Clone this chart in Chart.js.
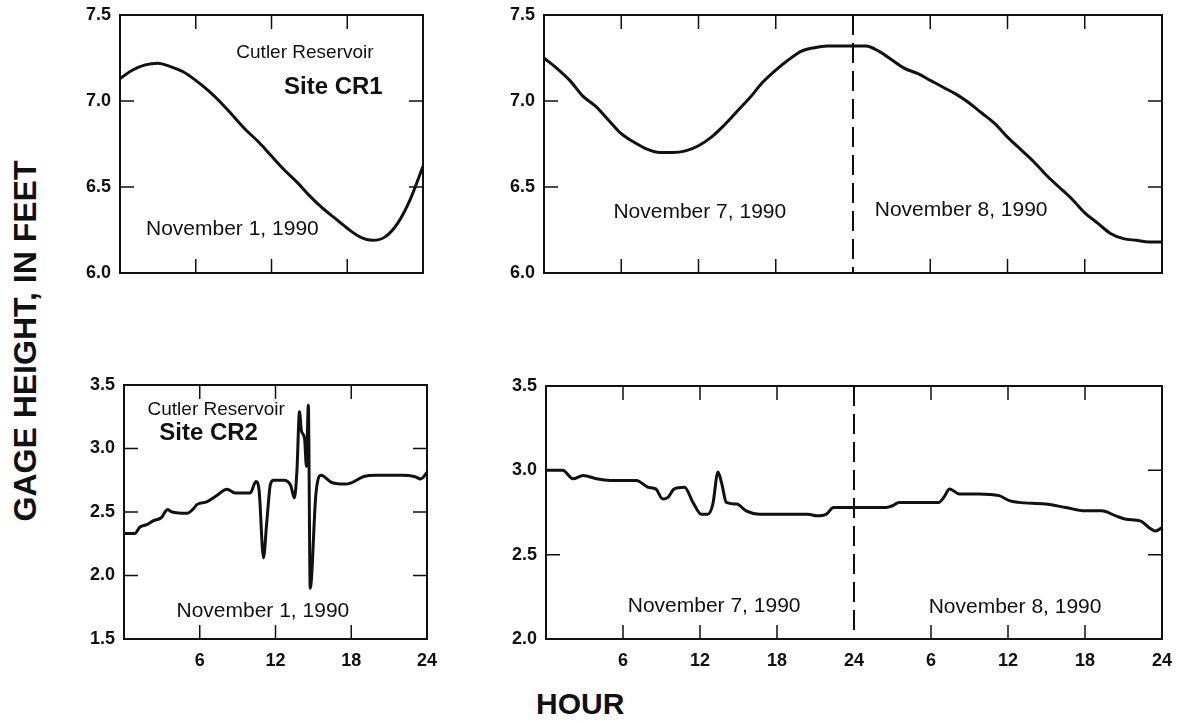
<!DOCTYPE html>
<html>
<head>
<meta charset="utf-8">
<script src="https://cdn.jsdelivr.net/npm/chart.js@4.4.1/dist/chart.umd.min.js"></script>
<style>
  body { margin: 0; background: #fff; width: 1182px; height: 721px; position: relative; overflow: hidden;
         font-family: "Liberation Sans", Arial, sans-serif; color: #111; }
  canvas.panel { position: absolute; }
  #yTitle { position: absolute; left: 25px; top: 341px; transform: translate(-50%, -50%) rotate(-90deg);
            font-weight: bold; font-size: 32px; line-height: 32px; white-space: nowrap; }
  #xTitle { position: absolute; left: 536px; top: 689px; font-weight: bold; font-size: 30px; line-height: 30px; }
</style>
</head>
<body>
<div id="yTitle">GAGE HEIGHT, IN FEET</div>
<div id="xTitle">HOUR</div>
<canvas id="cr1Day1" class="panel"></canvas>
<canvas id="cr1Day78" class="panel"></canvas>
<canvas id="cr2Day1" class="panel"></canvas>
<canvas id="cr2Day78" class="panel"></canvas>
<script>
// Site CR1, November 1, 1990
const cr1Nov1Hours = [0, 1, 2, 3, 4, 5, 6, 7, 8, 9, 10, 11, 12, 13, 14, 15, 16, 17, 18, 19, 20, 21, 22, 23, 24];
const cr1Nov1Gage = [7.13, 7.18, 7.21, 7.22, 7.20, 7.17, 7.12, 7.06, 6.99, 6.91, 6.83, 6.76, 6.68, 6.60, 6.53,
                     6.45, 6.38, 6.32, 6.26, 6.21, 6.19, 6.21, 6.29, 6.43, 6.62];

// Site CR1, November 7-8, 1990 (hours counted from start of Nov 7)
const cr1Nov78Hours = [0, 1, 2, 3, 4, 5, 6, 7, 8, 9, 10, 11, 12, 13, 14, 15, 16, 17, 18, 19, 20, 21, 22, 23, 24,
                       25, 26, 27, 28, 29, 30, 31, 32, 33, 34, 35, 36, 37, 38, 39, 40, 41, 42, 43, 44, 45, 46, 47, 48];
const cr1Nov78Gage = [7.25, 7.19, 7.12, 7.03, 6.97, 6.89, 6.81, 6.76, 6.72, 6.70, 6.70, 6.71, 6.74, 6.79, 6.86,
                      6.94, 7.02, 7.11, 7.18, 7.24, 7.29, 7.31, 7.32, 7.32, 7.32, 7.32, 7.29, 7.24, 7.19, 7.16,
                      7.12, 7.08, 7.04, 6.99, 6.93, 6.87, 6.79, 6.72, 6.65, 6.57, 6.50, 6.43, 6.35, 6.29, 6.23,
                      6.20, 6.19, 6.18, 6.18];

// Site CR2, November 1, 1990
const cr2Nov1Hours = [0, 0.85, 1.25, 1.8, 2.3, 3.0, 3.25, 3.45, 3.8, 5.0, 5.45, 5.8, 6.55, 7.35, 8.15, 8.8, 10.0,
                      10.45, 10.7, 11.05, 11.3, 11.6, 11.85, 12.65, 13.2, 13.5, 13.7, 13.9, 14.05, 14.3, 14.45,
                      14.6, 14.75, 15.2, 15.6, 16.5, 17.5, 18.0, 19.0, 20.0, 22.0, 23.0, 23.5, 24];
const cr2Nov1Gage = [2.33, 2.33, 2.38, 2.40, 2.43, 2.46, 2.50, 2.52, 2.50, 2.49, 2.52, 2.56, 2.58, 2.63, 2.68, 2.65,
                     2.65, 2.74, 2.67, 2.14, 2.41, 2.72, 2.75, 2.75, 2.71, 2.61, 2.83, 3.29, 3.14, 3.08, 2.86,
                     3.34, 1.90, 2.64, 2.79, 2.73, 2.72, 2.73, 2.78, 2.79, 2.79, 2.78, 2.76, 2.81];

// Site CR2, November 7-8, 1990
const cr2Nov78Hours = [0, 1.3, 2.1, 2.9, 3.95, 5.0, 7.05, 7.95, 8.55, 9.1, 9.5, 10.0, 10.8, 11.45, 12.1, 12.6, 13.0,
                       13.4, 13.7, 14.05, 14.85, 15.6, 16.65, 18.7, 20.4, 21.1, 21.85, 22.4, 23.3, 24, 26.5, 27.0,
                       27.5, 30.6, 31.0, 31.45, 32.2, 33.7, 35.3, 36.1, 36.8, 38.9, 40.5, 42.0, 43.3, 44.4, 45.2,
                       46.3, 47.0, 47.5, 48];
const cr2Nov78Gage = [3.00, 3.00, 2.95, 2.97, 2.95, 2.94, 2.94, 2.90, 2.89, 2.83, 2.84, 2.89, 2.90, 2.81, 2.74, 2.74,
                      2.80, 2.99, 2.92, 2.81, 2.80, 2.76, 2.74, 2.74, 2.74, 2.73, 2.74, 2.78, 2.78, 2.78, 2.78, 2.79,
                      2.81, 2.81, 2.84, 2.89, 2.86, 2.86, 2.85, 2.82, 2.81, 2.80, 2.78, 2.76, 2.76, 2.73, 2.71,
                      2.70, 2.66, 2.64, 2.66];

// inside tick marks
const oneDayTicks = [6, 12, 18];
const twoDayTicks = [6, 12, 18, 30, 36, 42];
const cr1GageTicks = [7.0, 6.5];
const cr2GageTicks = [3.0, 2.5, 2.0];

const FONT = '"Liberation Sans", Arial, sans-serif';
Chart.defaults.font.family = FONT;
Chart.defaults.color = '#111';

const YW = 64, XH = 36, PT = 28, PR = 26;

const framePlugin = {
    id: 'frame',
    beforeDatasetsDraw(chart, args, opts) {
        const { ctx, scales: { x, y } } = chart;
        ctx.save();
        ctx.fillStyle = '#111';
        ctx.textAlign = 'center';
        ctx.textBaseline = 'middle';
        opts.notes.forEach(n => {
            ctx.font = (n.bold ? 'bold ' : '') + n.size + 'px ' + FONT;
            ctx.fillText(n.text, x.getPixelForValue(n.x), y.getPixelForValue(n.y));
        });
        ctx.restore();
    },
    afterDatasetsDraw(chart, args, opts) {
        const { ctx, chartArea: a, scales: { x, y } } = chart;
        const len = 14;
        ctx.save();
        ctx.strokeStyle = '#111';
        ctx.lineWidth = 2;
        ctx.strokeRect(a.left, a.top, a.right - a.left, a.bottom - a.top);
        ctx.lineWidth = 1.5;
        ctx.beginPath();
        opts.xTicks.forEach(v => {
            const px = x.getPixelForValue(v);
            ctx.moveTo(px, a.top); ctx.lineTo(px, a.top + len);
            ctx.moveTo(px, a.bottom); ctx.lineTo(px, a.bottom - len);
        });
        opts.yTicks.forEach(v => {
            const py = y.getPixelForValue(v);
            ctx.moveTo(a.left, py); ctx.lineTo(a.left + len, py);
            ctx.moveTo(a.right, py); ctx.lineTo(a.right - len, py);
        });
        ctx.stroke();
        if (opts.dashAt != null) {
            const px = x.getPixelForValue(opts.dashAt);
            ctx.lineWidth = 2;
            ctx.setLineDash([20, 8]);
            ctx.beginPath();
            ctx.moveTo(px, a.top);
            ctx.lineTo(px, a.bottom);
            ctx.stroke();
        }
        ctx.restore();
    }
};

function drawPanel(id, area, hours, gage, cfg) {
    const canvas = document.getElementById(id);
    canvas.width = YW + (area.right - area.left) + PR;
    canvas.height = PT + (area.bottom - area.top) + XH;
    canvas.style.left = (area.left - YW) + 'px';
    canvas.style.top = (area.top - PT) + 'px';

    const tickFont = { family: FONT, size: 18, weight: 'bold' };

    new Chart(canvas, {
        type: 'line',
        data: {
            datasets: [{
                data: hours.map((h, i) => ({ x: h, y: gage[i] })),
                borderColor: '#111',
                borderWidth: 3,
                pointRadius: 0,
                cubicInterpolationMode: 'monotone',
                fill: false
            }]
        },
        options: {
            responsive: false,
            animation: false,
            events: [],
            layout: { padding: { top: PT, right: PR, left: 0, bottom: 0 } },
            scales: {
                x: {
                    type: 'linear',
                    min: 0,
                    max: cfg.xMax,
                    afterFit: s => { s.height = XH; },
                    grid: { display: false, drawTicks: false },
                    border: { display: false },
                    ticks: {
                        display: cfg.showHours,
                        stepSize: 6,
                        autoSkip: false,
                        maxRotation: 0,
                        padding: 11,
                        font: tickFont,
                        callback: v => v === 0 ? '' : String((v - 1) % 24 + 1)
                    }
                },
                y: {
                    min: cfg.yMin,
                    max: cfg.yMax,
                    afterFit: s => { s.width = YW; },
                    grid: { display: false, drawTicks: false },
                    border: { display: false },
                    ticks: {
                        stepSize: 0.5,
                        padding: 9,
                        font: tickFont,
                        callback: v => v.toFixed(1)
                    }
                }
            },
            plugins: {
                legend: { display: false },
                tooltip: { enabled: false },
                frame: {
                    xTicks: cfg.xTicks,
                    yTicks: cfg.yTicks,
                    dashAt: cfg.dashAt,
                    notes: cfg.notes
                }
            }
        },
        plugins: [framePlugin]
    });
}

drawPanel('cr1Day1', { left: 120, right: 423, top: 15, bottom: 273 }, cr1Nov1Hours, cr1Nov1Gage, {
    xMax: 24, yMin: 6.0, yMax: 7.5, showHours: false,
    xTicks: oneDayTicks, yTicks: cr1GageTicks, dashAt: null,
    notes: [
        { text: 'Cutler Reservoir', x: 14.65, y: 7.28, size: 19 },
        { text: 'Site CR1', x: 16.9, y: 7.08, size: 24, bold: true },
        { text: 'November 1, 1990', x: 8.9, y: 6.256, size: 21 }
    ]
});

drawPanel('cr1Day78', { left: 544, right: 1162, top: 15, bottom: 273 }, cr1Nov78Hours, cr1Nov78Gage, {
    xMax: 48, yMin: 6.0, yMax: 7.5, showHours: false,
    xTicks: twoDayTicks, yTicks: cr1GageTicks, dashAt: 24,
    notes: [
        { text: 'November 7, 1990', x: 12.1, y: 6.355, size: 21 },
        { text: 'November 8, 1990', x: 32.4, y: 6.366, size: 21 }
    ]
});

drawPanel('cr2Day1', { left: 124, right: 427, top: 385, bottom: 639 }, cr2Nov1Hours, cr2Nov1Gage, {
    xMax: 24, yMin: 1.5, yMax: 3.5, showHours: true,
    xTicks: oneDayTicks, yTicks: cr2GageTicks, dashAt: null,
    notes: [
        { text: 'Cutler Reservoir', x: 7.3, y: 3.305, size: 19 },
        { text: 'Site CR2', x: 6.7, y: 3.116, size: 24, bold: true },
        { text: 'November 1, 1990', x: 11.0, y: 1.72, size: 21 }
    ]
});

drawPanel('cr2Day78', { left: 546, right: 1162, top: 386, bottom: 639 }, cr2Nov78Hours, cr2Nov78Gage, {
    xMax: 48, yMin: 2.0, yMax: 3.5, showHours: true,
    xTicks: twoDayTicks, yTicks: cr2GageTicks, dashAt: 24,
    notes: [
        { text: 'November 7, 1990', x: 13.1, y: 2.196, size: 21 },
        { text: 'November 8, 1990', x: 36.55, y: 2.19, size: 21 }
    ]
});
</script>
</body>
</html>
